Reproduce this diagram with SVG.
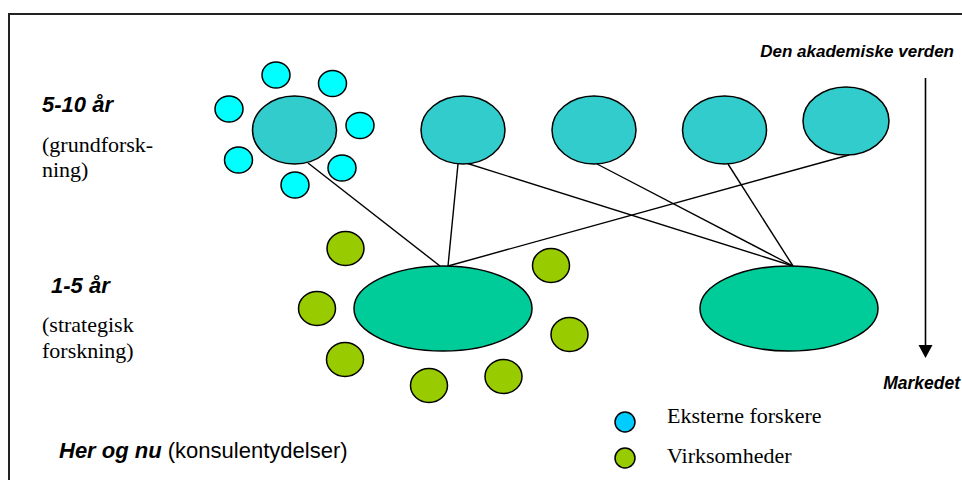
<svg xmlns="http://www.w3.org/2000/svg" width="962" height="480" viewBox="0 0 962 480">
<style>
.frame{fill:none;stroke:#222;stroke-width:2}
.big-c{fill:#33CCCC;stroke:#000;stroke-width:1.5}
.small-c{fill:#00FFFF;stroke:#000;stroke-width:1.5}
.big-g{fill:#00CC99;stroke:#000;stroke-width:1.5}
.small-g{fill:#99CC00;stroke:#000;stroke-width:1.5}
.leg-b{fill:#00CCFF;stroke:#000;stroke-width:1.5}
.conn line{stroke:#000;stroke-width:1.4}
.bi{font-family:"Liberation Sans",Arial,sans-serif;font-weight:bold;font-style:italic;fill:#000}
.sans{font-family:"Liberation Sans",Arial,sans-serif;fill:#000}
.serif{font-family:"Liberation Serif","Times New Roman",serif;font-size:22px;fill:#000}
</style>
<rect width="962" height="480" fill="#fff"/>
<path class="frame" d="M9,482 V14 H964"/>

<g id="connectors" class="conn">
<line x1="308" y1="163" x2="440" y2="266"/>
<line x1="458" y1="164" x2="448" y2="266"/>
<line x1="466" y1="163" x2="793" y2="266"/>
<line x1="597" y1="164" x2="793" y2="266"/>
<line x1="728" y1="164" x2="793" y2="266"/>
<line x1="849" y1="155" x2="448" y2="266"/>
</g>

<g id="academia-1">
<ellipse class="big-c" cx="294.5" cy="130" rx="42" ry="34"/>
</g>
<g id="academia-2"><ellipse class="big-c" cx="463" cy="130" rx="42" ry="34"/></g>
<g id="academia-3"><ellipse class="big-c" cx="594" cy="130" rx="42" ry="34"/></g>
<g id="academia-4"><ellipse class="big-c" cx="724.5" cy="130" rx="42" ry="34"/></g>
<g id="academia-5"><ellipse class="big-c" cx="846" cy="121" rx="43" ry="34"/></g>

<g id="external-researchers">
<ellipse class="small-c" cx="276" cy="75" rx="14" ry="13"/>
<ellipse class="small-c" cx="332.5" cy="83.5" rx="14" ry="13"/>
<ellipse class="small-c" cx="229" cy="109" rx="14" ry="13"/>
<ellipse class="small-c" cx="360" cy="125.5" rx="14" ry="13"/>
<ellipse class="small-c" cx="238.5" cy="160" rx="14" ry="13"/>
<ellipse class="small-c" cx="342" cy="168" rx="14" ry="13"/>
<ellipse class="small-c" cx="295" cy="185" rx="14" ry="13"/>
</g>

<g id="strategic-1"><ellipse class="big-g" cx="443" cy="308.5" rx="89" ry="42.5"/></g>
<g id="strategic-2"><ellipse class="big-g" cx="789" cy="308.5" rx="89" ry="42.5"/></g>

<g id="companies">
<ellipse class="small-g" cx="345.5" cy="248.5" rx="18.5" ry="17"/>
<ellipse class="small-g" cx="317" cy="308.5" rx="18.5" ry="17"/>
<ellipse class="small-g" cx="345" cy="359.5" rx="18.5" ry="17"/>
<ellipse class="small-g" cx="429" cy="385.5" rx="18.5" ry="17"/>
<ellipse class="small-g" cx="551" cy="265.5" rx="18.5" ry="17"/>
<ellipse class="small-g" cx="569.5" cy="334.5" rx="18.5" ry="17"/>
<ellipse class="small-g" cx="503.5" cy="376.5" rx="18.5" ry="17"/>
</g>

<g id="axis">
<line x1="925.5" y1="78" x2="925.5" y2="346" stroke="#000" stroke-width="1.6"/>
<polygon points="918.5,345 932.5,345 925.5,358" fill="#000"/>
<text class="bi" x="954" y="57" font-size="17" text-anchor="end">Den akademiske verden</text>
<text class="bi" x="960" y="389" font-size="17.5" text-anchor="end">Markedet</text>
</g>

<g id="labels">
<text class="bi" x="42" y="112" font-size="22">5-10 år</text>
<text class="serif" x="42" y="152">(grundforsk-</text>
<text class="serif" x="42" y="177">ning)</text>
<text class="bi" x="51" y="293" font-size="22">1-5 år</text>
<text class="serif" x="42" y="332">(strategisk</text>
<text class="serif" x="42" y="358">forskning)</text>
<text class="sans" x="59" y="458" font-size="22"><tspan class="bi">Her og nu</tspan> (konsulentydelser)</text>
</g>

<g id="legend">
<circle class="leg-b" cx="625" cy="422" r="10"/>
<text class="serif" x="667" y="423">Eksterne forskere</text>
<circle class="small-g" cx="625" cy="458" r="10"/>
<text class="serif" x="667" y="463">Virksomheder</text>
</g>
</svg>
